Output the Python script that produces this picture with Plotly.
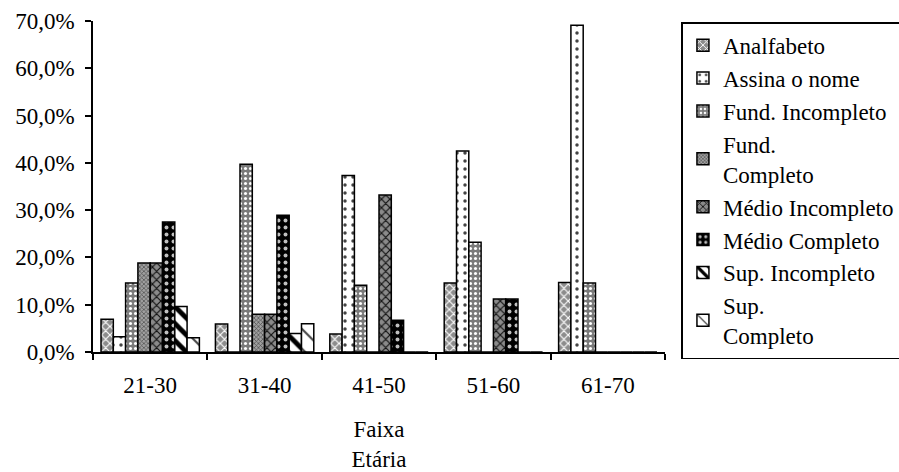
import plotly.graph_objects as go

categories = ["21-30", "31-40", "41-50", "51-60", "61-70"]
series_names = ["Analfabeto", "Assina o nome", "Fund. Incompleto", "Fund.<br>Completo",
                "Médio Incompleto", "Médio Completo", "Sup. Incompleto", "Sup.<br>Completo"]

analfabeto = [6.9, 5.9, 3.8, 14.6, 14.7]
assina_nome = [3.2, 0, 37.3, 42.5, 69.1]
fund_incompleto = [14.6, 39.7, 14.1, 23.2, 14.6]
fund_completo = [18.8, 8.0, 0, 0, 0]
medio_incompleto = [18.8, 8.0, 33.2, 11.2, 0]
medio_completo = [27.5, 28.9, 6.7, 11.2, 0]
sup_incompleto = [9.6, 3.9, 0, 0, 0]
sup_completo = [3.0, 6.0, 0, 0, 0]

values = [analfabeto, assina_nome, fund_incompleto, fund_completo,
          medio_incompleto, medio_completo, sup_incompleto, sup_completo]

patterns = [
    dict(shape="x", bgcolor="#8c8c8c", fgcolor="white", size=6, solidity=0.35),
    dict(shape=".", bgcolor="white", fgcolor="#444444", size=8, solidity=0.15),
    dict(shape=".", bgcolor="#7a7a7a", fgcolor="white", size=5, solidity=0.3),
    dict(shape="x", bgcolor="#a0a0a0", fgcolor="#4a4a4a", size=3, solidity=0.4),
    dict(shape="x", bgcolor="#8a8a8a", fgcolor="#111111", size=6, solidity=0.35),
    dict(shape=".", bgcolor="black", fgcolor="#c0c0c0", size=7, solidity=0.25),
    dict(shape="\\", bgcolor="white", fgcolor="black", size=12, solidity=0.4),
    dict(shape="\\", bgcolor="white", fgcolor="#444444", size=14, solidity=0.15),
]

fig = go.Figure()
for i, (name, vals, pat) in enumerate(zip(series_names, values, patterns)):
    fig.add_trace(go.Bar(
        x=categories, y=vals, name=name, legendgroup=f"g{i}",
        marker=dict(color=pat["bgcolor"], pattern=dict(fillmode="replace", **pat),
                    line=dict(color="black", width=1.5)),
    ))

font = dict(family="'Liberation Serif', 'Times New Roman', Times, serif", size=23, color="black")
fig.update_layout(
    width=899, height=472,
    margin=dict(l=93, r=234, t=21, b=120),
    paper_bgcolor="white", plot_bgcolor="white",
    font=font,
    separators=",.",
    barmode="group", bargap=0.14, bargroupgap=0,
    showlegend=True,
    legend=dict(xref="container", yref="container", x=0.758, y=0.953,
                xanchor="left", yanchor="top", maxheight=1,
                bordercolor="black", borderwidth=1.5, bgcolor="white",
                font=font, tracegroupgap=0, traceorder="normal"),
    xaxis=dict(type="category", tickson="boundaries", ticks="outside", ticklen=6,
               tickcolor="black", tickwidth=1.5, automargin=False,
               showline=True, linecolor="black", linewidth=1.5,
               showgrid=False, ticklabelstandoff=12,
               title=dict(text="Faixa<br>Etária", standoff=24, font=font)),
    yaxis=dict(range=[0, 70], dtick=10, tickformat=".1f", ticksuffix="%",
               ticks="outside", ticklen=6, tickcolor="black", tickwidth=1.5,
               showline=True, linecolor="black", linewidth=1.5, automargin=False,
               showgrid=False, zeroline=False, ticklabelstandoff=6),
)

fig.write_html("out.html")
